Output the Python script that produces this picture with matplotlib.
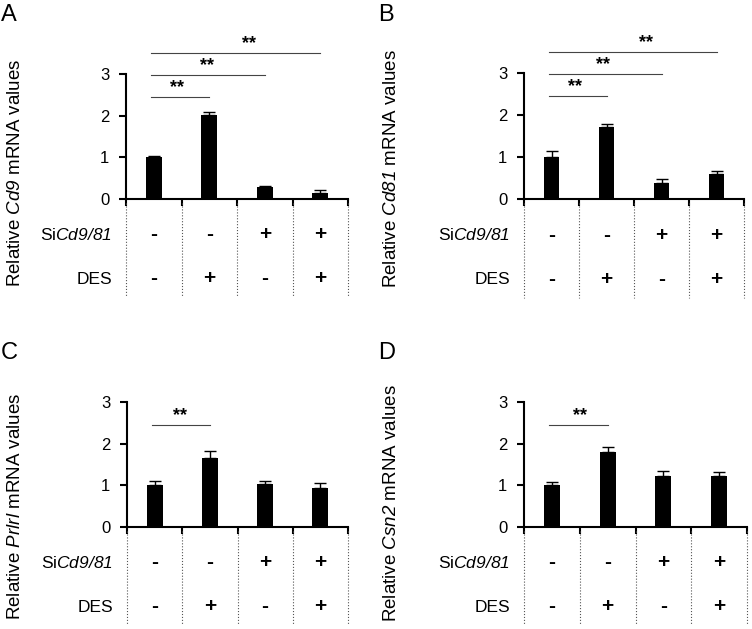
import numpy as np
import matplotlib
matplotlib.use('Agg')
import matplotlib.pyplot as plt

plt.rcParams['font.family'] = ['Liberation Sans', 'DejaVu Sans']
plt.rcParams['mathtext.fontset'] = 'custom'
# \mathrm is used for the italic gene names so that digits come out italic too
plt.rcParams['mathtext.rm'] = 'Liberation Sans:italic'
plt.rcParams['mathtext.it'] = 'Liberation Sans:italic'

# data
genes = ['Cd9', 'Cd81', 'Prlrl', 'Csn2']
letters = ['A', 'B', 'C', 'D']
cd9_mean = [1.00, 2.02, 0.30, 0.14]
cd9_err = [0.04, 0.06, 0.02, 0.08]
cd81_mean = [1.00, 1.71, 0.39, 0.59]
cd81_err = [0.14, 0.08, 0.08, 0.08]
prlr_mean = [1.00, 1.66, 1.04, 0.94]
prlr_err = [0.10, 0.16, 0.06, 0.12]
csn2_mean = [1.00, 1.79, 1.22, 1.22]
csn2_err = [0.07, 0.14, 0.12, 0.11]
si_row = ['-', '-', '+', '+']
des_row = ['-', '+', '-', '+']
yticks = [0, 1, 2, 3]
# significance pairs (from, to)
sig_abcd = [[(0, 1), (0, 2), (0, 3)], [(0, 1), (0, 2), (0, 3)], [(0, 1)], [(0, 1)]]
star_x = [[0.92, 1.46, 2.22], [0.93, 1.43, 2.22], [0.96], [1.0]]

means = [cd9_mean, cd81_mean, prlr_mean, csn2_mean]
errs = [cd9_err, cd81_err, prlr_err, csn2_err]

W, H = 752, 629
fig = plt.figure(figsize=(W / 100, H / 100), dpi=100)

# axes boxes in pixels: left, right, top(y=3), bottom(y=0)
boxes = [(126, 348, 74, 199), (524, 744, 73, 199),
         (127, 348, 402, 527), (524, 747, 402, 527)]
label_pos = [(16, 173), (392, 169), (16, 506), (392, 503)]
letter_pos = [(1, 15), (378, 15), (1, 353), (378, 353)]
sig_levels = [2.45, 2.98, 3.50]

for i in range(4):
    l, r, t, b = boxes[i]
    ax = fig.add_axes([l / W, (H - b) / H, (r - l) / W, (b - t) / H])
    x = np.arange(4) + 0.5
    ax.bar(x, means[i], width=0.29, color='black', zorder=3)
    ax.errorbar(x, means[i], yerr=[[0] * 4, errs[i]], fmt='none', ecolor='black',
                elinewidth=1.0, capsize=4, capthick=1.0, zorder=2)
    ax.set_xlim(0, 4)
    ax.set_ylim(0, 3)
    ax.set_yticks(yticks)
    ax.set_xticks([0, 1, 2, 3, 4])
    ax.set_xticklabels([])
    ax.tick_params(axis='both', direction='out', length=5, width=1.5, labelsize=12)
    ax.tick_params(axis='y', pad=7)
    for s in ['top', 'right']:
        ax.spines[s].set_visible(False)
    for s in ['left', 'bottom']:
        ax.spines[s].set_linewidth(1.5)
    ax.patch.set_alpha(0)

    # dotted dividers below the axis
    for d in range(5):
        ax.plot([d, d], [-0.1, -2.35], ls=':', color='#555555', lw=0.8, clip_on=False)
    for k in range(4):
        ax.text(x[k], -0.86, si_row[k], ha='center', va='center', fontsize=15,
                fontweight='bold')
        ax.text(x[k], -1.92, des_row[k], ha='center', va='center', fontsize=15,
                fontweight='bold')
    ax.text(-0.25, -0.86, r'Si$\mathrm{Cd9/81}$', ha='right', va='center', fontsize=12.5)
    ax.text(-0.25, -1.92, 'DES', ha='right', va='center', fontsize=12.5)

    # significance bars
    for j, (a, c) in enumerate(sig_abcd[i]):
        yy = sig_levels[j]
        ax.plot([x[a] - 0.05, x[c]], [yy, yy], color='#444444', lw=0.8, clip_on=False)
        ax.text(star_x[i][j], yy + 0.02, '**', ha='center', va='bottom',
                fontsize=13, fontweight='bold')

    lx, ly = label_pos[i]
    fig.text(lx / W, 1 - ly / H, 'Relative $\\mathrm{' + genes[i] + '}$ mRNA values',
             rotation=90, ha='center', va='center', fontsize=13.5)
    px, py = letter_pos[i]
    fig.text(px / W, 1 - py / H, letters[i], ha='left', va='center', fontsize=17)

fig.savefig('out.png', dpi=100)
